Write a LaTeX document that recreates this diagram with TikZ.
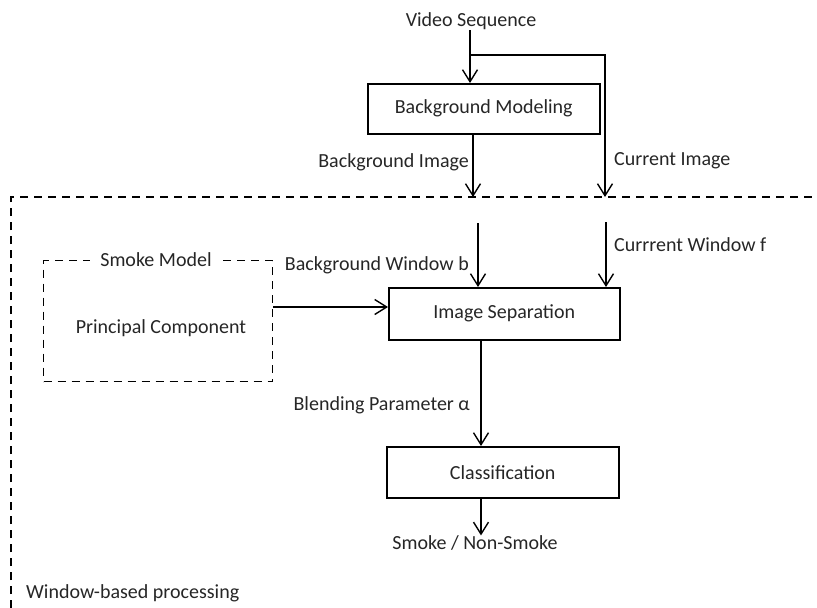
\documentclass[tikz,border=0pt]{standalone}
\usepackage{fontspec}
\setmainfont{Carlito}
\usetikzlibrary{arrows.meta,calc}
\begin{document}
\begin{tikzpicture}[x=1pt,y=-1pt,
  font=\fontsize{20}{24}\selectfont,
  every node/.style={inner sep=0pt, text=black!85},
  stage/.style={draw=black, line width=1.5pt, minimum height=50pt, anchor=north west},
  lbl/.style={inner sep=0pt},
  arr/.style={line width=1.4pt, -{Straight Barb[length=12pt,width=15pt,line width=1.4pt]}},
  dashline/.style={line width=1.3pt, dash pattern=on 8pt off 6pt}]
\useasboundingbox (0,0) rectangle (817,608);

% outer window-based processing region (open to the right and bottom)
\draw[dashline] (11,608) -- (11,197) -- (817,197);
\node[lbl, anchor=west] (wbp) at (26,593) {Window-based processing};

% top: background modelling
\node[lbl] (vs) at (471,21) {Video Sequence};
\node[stage, minimum width=232pt] (bgm) at (367,83) {};
\node at (bgm.center) {Background Modeling};
\coordinate (br) at (470,55);
\coordinate (bgi) at (473,197);
\coordinate (cui) at (605,197);
\draw[arr] (vs.south -| br) -- (bgm.north -| br);
\draw[line width=1.4pt] (br) -| ($(cui)+(0,-20)$);
\draw[arr] (br -| cui) -- (cui);
\draw[arr] (bgm.south -| bgi) -- (bgi);
\node[lbl, anchor=east] (bgil) at (469,162) {Background Image};
\node[lbl, anchor=west] (cuil) at (614,161) {Current Image};

% smoke model
\node[draw=black, dashline, minimum width=229pt, minimum height=121pt, anchor=north west] (smoke) at (43,260) {};
\node[fill=white, inner xsep=10pt, inner ysep=2pt] (smt) at (156,260) {Smoke Model};
\node (pc) at (161,328) {Principal Component};

% image separation
\node[stage, minimum width=231pt, minimum height=52pt] (sep) at (388,287) {};
\node at (sep.center) {Image Separation};
\coordinate (bw) at (478,223);
\coordinate (cw) at (606,222);
\draw[arr] (bw) -- (sep.north -| bw);
\draw[arr] (cw) -- (sep.north -| cw);
\node[lbl, anchor=east] (bwl) at (469,265) {Background Window b};
\node[lbl, anchor=west] (cwl) at (614,245) {Currrent Window f};
\coordinate (pa) at (0,307);
\draw[arr] (smoke.east |- pa) -- (sep.west |- pa);

% classification
\node[stage, minimum width=232pt, minimum height=51pt] (cls) at (386,446) {};
\node at (cls.center) {Classification};
\coordinate (ax) at (481,0);
\draw[arr] (sep.south -| ax) -- (cls.north -| ax);
\node[lbl, anchor=east] (bpl) at (470,405) {Blending Parameter α};
\node[lbl] (out) at (475,543) {Smoke / Non-Smoke};
\draw[arr] (cls.south -| ax) -- (ax |- out.north);
\end{tikzpicture}
\end{document}
